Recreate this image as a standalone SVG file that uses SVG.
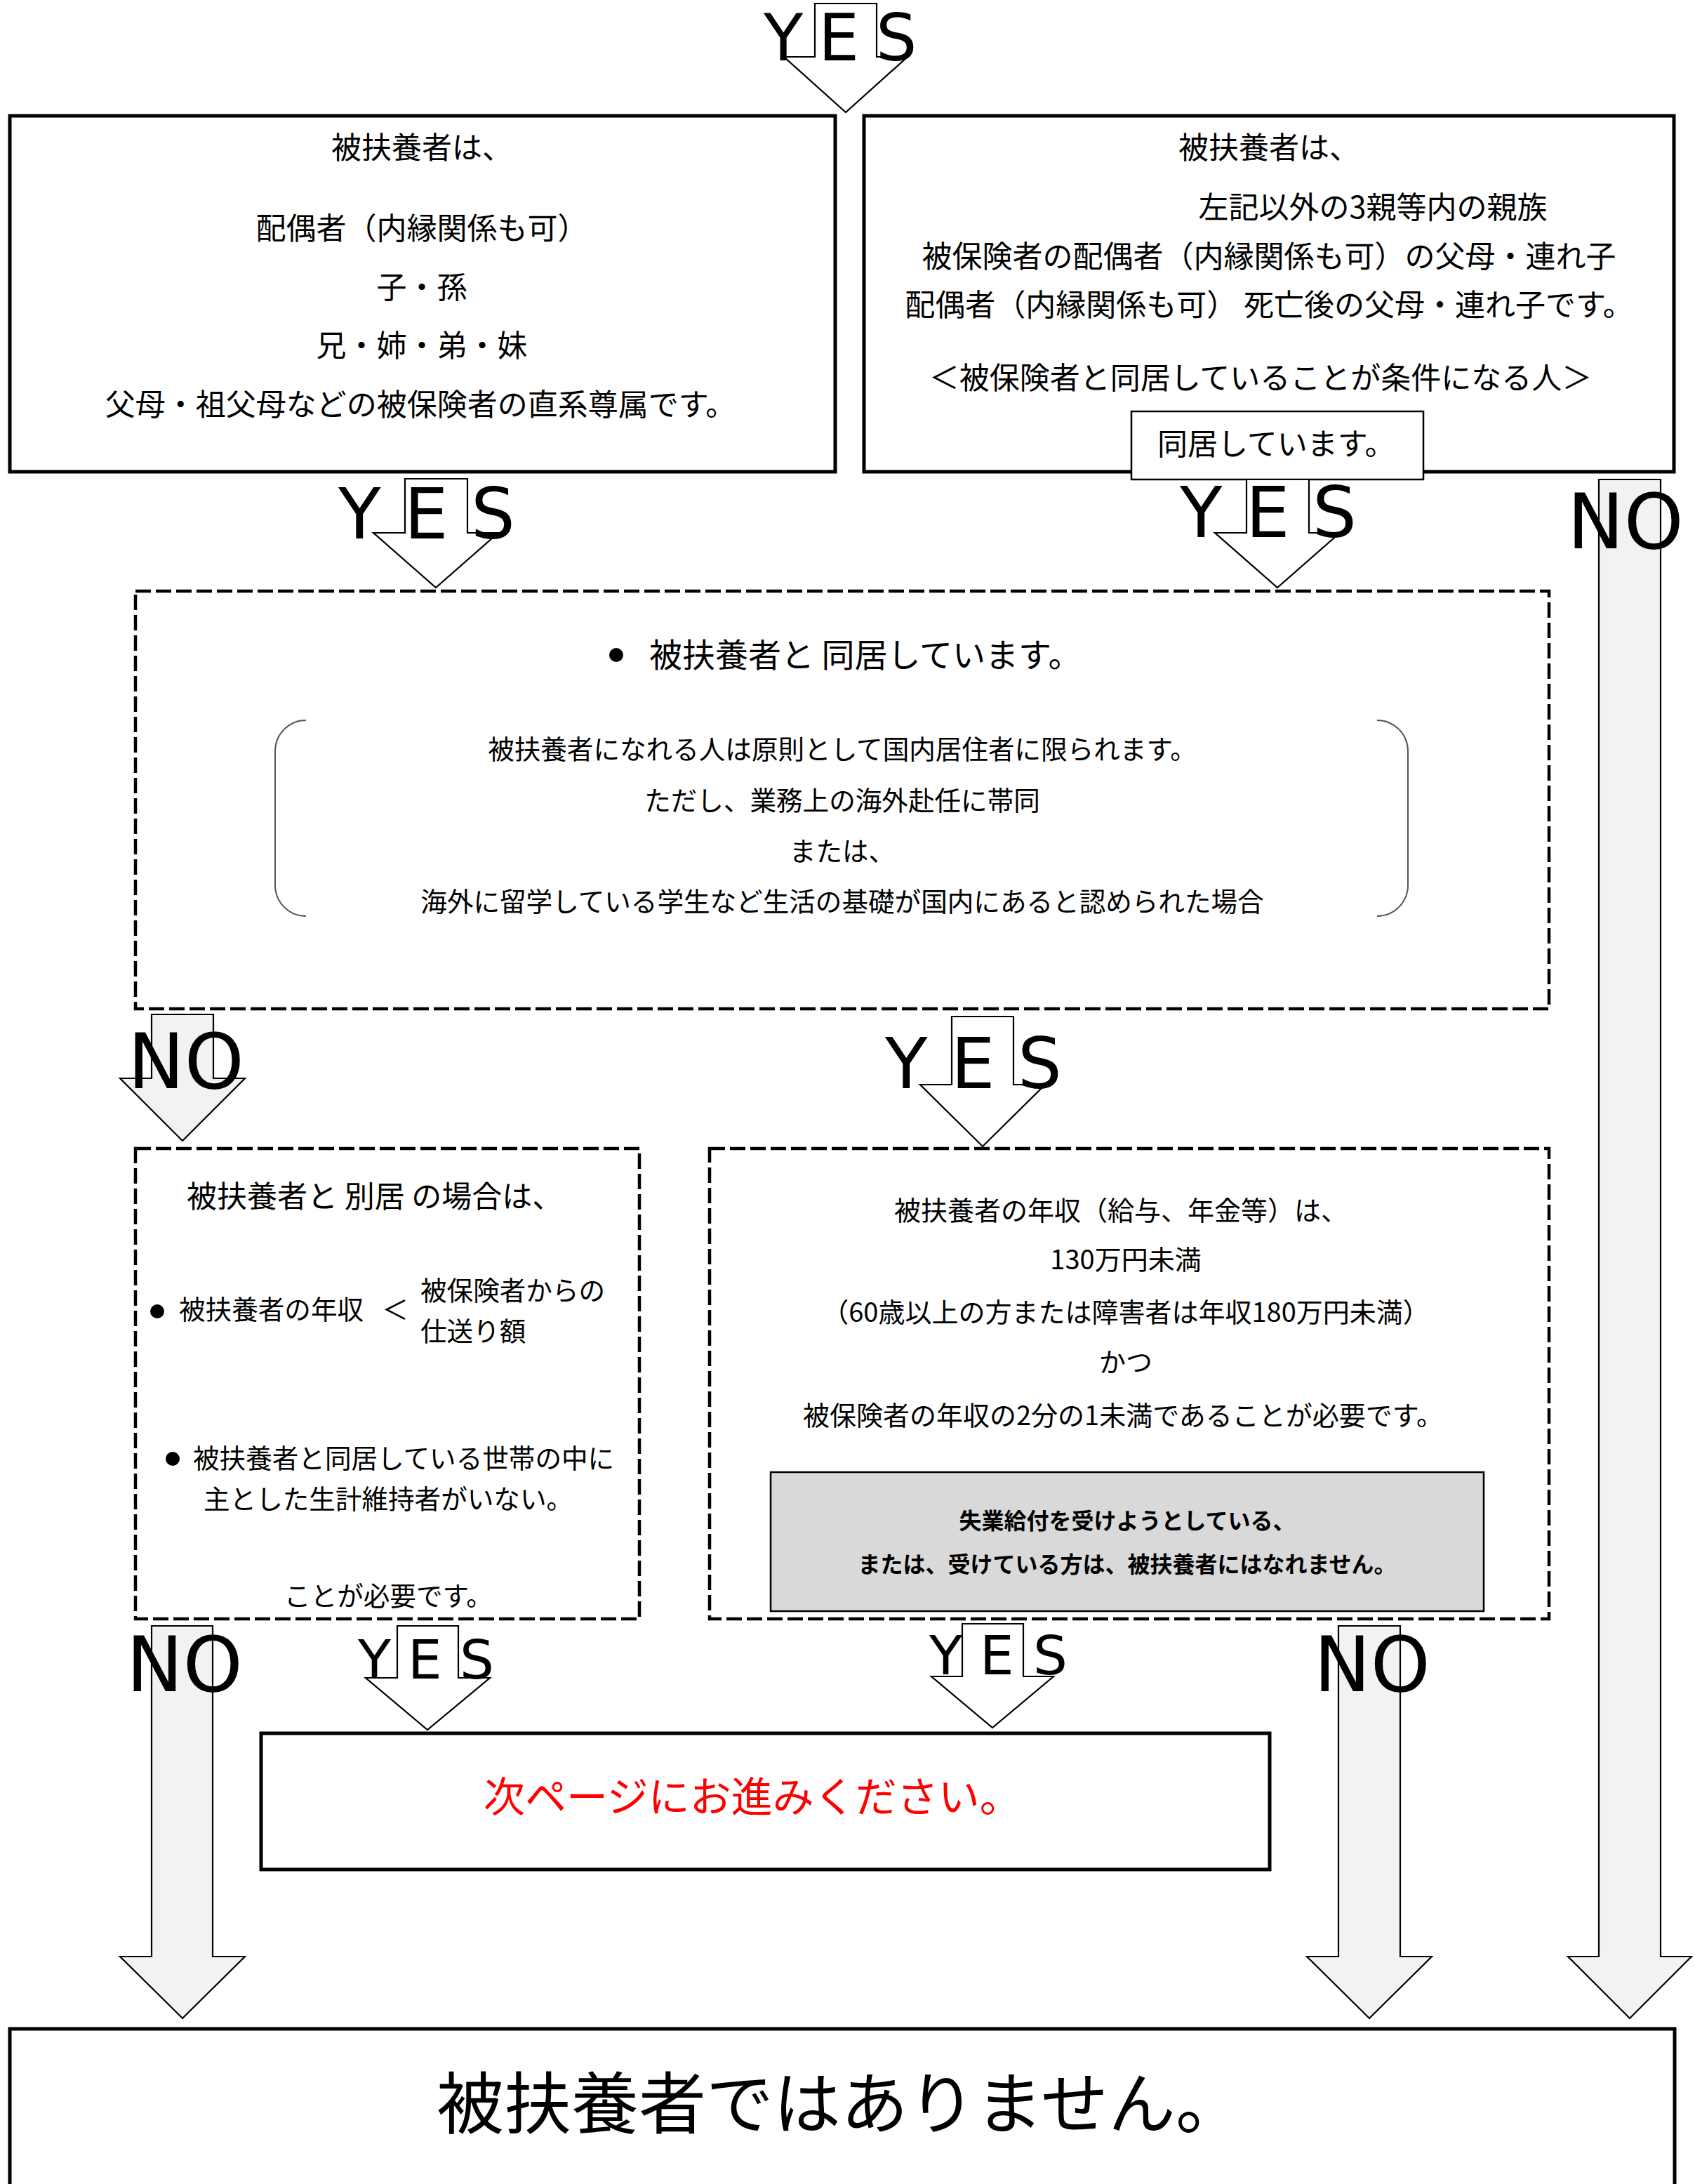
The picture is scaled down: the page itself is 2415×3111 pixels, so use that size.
<svg xmlns="http://www.w3.org/2000/svg" width="2415" height="3111" viewBox="0 0 2415 3111">
<style>
.box{fill:#fff;stroke:#000;stroke-width:5}
.thin{fill:#fff;stroke:#000;stroke-width:2.5}
.dash{fill:#fff;stroke:#000;stroke-width:4.5;stroke-dasharray:22 7}
.gray{fill:#d9d9d9;stroke:#000;stroke-width:2.5}
.ya{fill:#fff;stroke:#000;stroke-width:2.2}
.na{fill:#f2f2f2;stroke:#000;stroke-width:2.2}
.br{fill:none;stroke:#555;stroke-width:2}
.jp{font-family:"Noto Sans CJK JP","Noto Sans",sans-serif;fill:#000}
.lat{font-family:"DejaVu Sans",sans-serif;fill:#000}
.yes{font-size:99px}
.yes2{font-size:77px}
.no{font-size:108px}
.f43{font-size:43px}
.f37{font-size:37.6px}
.f38{font-size:38px}
.mid{text-anchor:middle}
.bold{font-weight:bold;font-size:32px}
</style>
<rect width="2415" height="3111" fill="#fff"/>

<g id="node-direct">
<rect class="box" x="14" y="165" width="1176" height="507"/>
<text class="jp f43 mid" x="601" y="226">被扶養者は、</text>
<text class="jp f43 mid" x="601" y="341">配偶者（内縁関係も可）</text>
<text class="jp f43 mid" x="601" y="425">子・孫</text>
<text class="jp f43 mid" x="601" y="508">兄・姉・弟・妹</text>
<text class="jp f43 mid" x="599" y="592">父母・祖父母などの被保険者の直系尊属です。</text>
</g>

<g id="node-other">
<rect class="box" x="1231" y="165" width="1154" height="507"/>
<text class="jp f43 mid" x="1808" y="226">被扶養者は、</text>
<text class="jp f43 mid" x="1956" y="311">左記以外の3親等内の親族</text>
<text class="jp f43 mid" x="1808" y="381">被保険者の配偶者（内縁関係も可）の父母・連れ子</text>
<text class="jp f43 mid" x="1808" y="450">配偶者（内縁関係も可） 死亡後の父母・連れ子です。</text>
<text class="jp f43 mid" x="1796" y="554">＜被保険者と同居していることが条件になる人＞</text>
</g>

<g id="node-dokyo-label">
<rect class="thin" x="1612" y="586" width="416" height="97"/>
<text class="jp f43" x="1649" y="648">同居しています。</text>
</g>

<g id="node-resident">
<rect class="dash" x="193" y="842" width="2014" height="595"/>
<circle cx="878" cy="933" r="10" fill="#000"/>
<text class="jp" font-size="47" x="925" y="950">被扶養者と 同居しています。</text>
<path class="br" d="M436,1026 A44,44 0 0 0 392,1070 L392,1261 A44,44 0 0 0 436,1305"/>
<path class="br" d="M1962,1026 A44,44 0 0 1 2006,1070 L2006,1261 A44,44 0 0 1 1962,1305"/>
<text class="jp f37 mid" x="1200" y="1081">被扶養者になれる人は原則として国内居住者に限られます。</text>
<text class="jp f37 mid" x="1200" y="1154">ただし、業務上の海外赴任に帯同</text>
<text class="jp f37 mid" x="1200" y="1226">または、</text>
<text class="jp f37 mid" x="1200" y="1298">海外に留学している学生など生活の基礎が国内にあると認められた場合</text>
</g>

<g id="node-separate">
<rect class="dash" x="193" y="1636" width="718" height="670"/>
<text class="jp f43" x="266" y="1720" xml:space="preserve">被扶養者と 別居 の場合は、</text>
<circle cx="224" cy="1868" r="10" fill="#000"/>
<text class="jp f37" x="255" y="1879">被扶養者の年収</text>
<text class="jp f37 mid" x="563" y="1879">＜</text>
<text class="jp f37" x="599" y="1852">被保険者からの</text>
<text class="jp f37" x="599" y="1910">仕送り額</text>
<circle cx="246" cy="2078" r="10" fill="#000"/>
<text class="jp f37" x="275" y="2091">被扶養者と同居している世帯の中に</text>
<text class="jp f37" x="290" y="2149">主とした生計維持者がいない。</text>
<text class="jp f37" x="405" y="2287">ことが必要です。</text>
</g>

<g id="node-income">
<rect class="dash" x="1011" y="1636" width="1196" height="670"/>
<text class="jp f38 mid" x="1597" y="1738">被扶養者の年収（給与、年金等）は、</text>
<text class="jp f38 mid" x="1604" y="1808">130万円未満</text>
<text class="jp f38 mid" x="1604" y="1883">（60歳以上の方または障害者は年収180万円未満）</text>
<text class="jp f38 mid" x="1604" y="1954">かつ</text>
<text class="jp f38 mid" x="1600" y="2030">被保険者の年収の2分の1未満であることが必要です。</text>
<rect class="gray" x="1098" y="2097" width="1016" height="198"/>
<text class="jp bold mid" x="1606" y="2178">失業給付を受けようとしている、</text>
<text class="jp bold mid" x="1606" y="2240">または、受けている方は、被扶養者にはなれません。</text>
</g>

<g id="node-next">
<rect class="box" x="372" y="2469" width="1437" height="194"/>
<text class="jp" font-size="59" style="fill:#ff0000" x="689" y="2581">次ページにお進みください。</text>
</g>

<g id="node-not">
<rect class="box" x="14" y="2890" width="2372" height="270"/>
<text class="jp" font-size="96" x="622" y="3031">被扶養者ではありません。</text>
</g>

<g id="connectors">
<g id="arrow-top-yes">
<polygon class="ya" points="1161,5 1249,5 1249,81 1293,81 1205,160 1117,81 1161,81"/>
<text class="lat" font-size="92" x="1088 1166 1248" y="86">YES</text>
</g>
<g id="arrow-left-yes">
<polygon class="ya" points="577,682 666,682 666,759 710,759 621,837 532,759 577,759"/>
<text class="lat yes" x="482 576 671" y="767">YES</text>
</g>
<g id="arrow-right-yes">
<polygon class="ya" points="1776,683 1865,683 1865,759 1909,759 1820,837 1731,759 1776,759"/>
<text class="lat yes" x="1681 1775 1870" y="765">YES</text>
</g>
<g id="arrow-long-no">
<polygon class="na" points="2278,683 2366,683 2366,2787 2410,2787 2322,2875 2234,2787 2278,2787"/>
<text class="lat no" x="2233" y="781">NO</text>
</g>
<g id="arrow-resident-no">
<polygon class="na" points="216,1445 304,1445 304,1536 349,1536 260,1625 171,1536 216,1536"/>
<text class="lat no" x="182" y="1550">NO</text>
</g>
<g id="arrow-resident-yes">
<polygon class="ya" points="1356,1448 1444,1448 1444,1545 1489,1545 1400,1633 1311,1545 1356,1545"/>
<text class="lat yes" x="1261 1355 1450" y="1550">YES</text>
</g>
<g id="arrow-separate-no">
<polygon class="na" points="216,2316 303,2316 303,2787 349,2787 260,2875 171,2787 216,2787"/>
<text class="lat no" x="180" y="2409">NO</text>
</g>
<g id="arrow-separate-yes">
<polygon class="ya" points="566,2316 653,2316 653,2390 698,2390 609,2464 521,2390 566,2390"/>
<text class="lat yes2" x="510 581 655" y="2391">YES</text>
</g>
<g id="arrow-income-yes">
<polygon class="ya" points="1371,2313 1458,2313 1458,2388 1501,2388 1414,2461 1327,2388 1371,2388"/>
<text class="lat yes2" x="1324 1396 1472" y="2385">YES</text>
</g>
<g id="arrow-income-no">
<polygon class="na" points="1907,2316 1995,2316 1995,2787 2040,2787 1951,2875 1862,2787 1907,2787"/>
<text class="lat no" x="1872" y="2409">NO</text>
</g>
</g>
</svg>
